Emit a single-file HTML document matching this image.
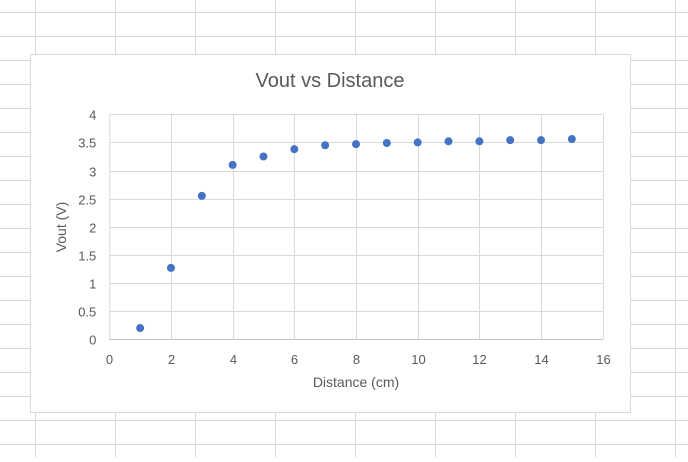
<!DOCTYPE html>
<html><head><meta charset="utf-8"><style>
body{margin:0;width:688px;height:457px;overflow:hidden;background:#fff;font-family:"Liberation Sans",sans-serif}
</style></head><body>
<svg id="s" width="688" height="457" xmlns="http://www.w3.org/2000/svg">
<g id="grid"></g>
<rect x="30.5" y="54.5" width="600" height="358" fill="#fff" stroke="#d9d9d9"/>
<text x="330" y="87" text-anchor="middle" font-size="20" fill="#595959">Vout vs Distance</text>
<g id="plot"></g>
<text x="356" y="387" text-anchor="middle" font-size="14" fill="#595959">Distance (cm)</text>
<text transform="translate(66,227) rotate(-90)" text-anchor="middle" font-size="14" fill="#595959">Vout (V)</text>
</svg>
<script>
const xValues=[1,2,3,4,5,6,7,8,9,10,11,12,13,14,15];
const yValues=[0.2,1.27,2.55,3.1,3.25,3.38,3.45,3.47,3.49,3.5,3.52,3.52,3.54,3.54,3.56];
const xTicks=[0,2,4,6,8,10,12,14,16];
const yTicks=[0,0.5,1,1.5,2,2.5,3,3.5,4];
const NS="http://www.w3.org/2000/svg";
const X0=109.3,X1=602.7,Y0=339.3,Y1=114.3;
function sx(v){return X0+(v-0)/(16-0)*(X1-X0);}
function sy(v){return Y0-(v-0)/(4-0)*(Y0-Y1);}
function mk(t,a,p){const e=document.createElementNS(NS,t);for(const k in a)e.setAttribute(k,a[k]);p.appendChild(e);return e;}
const grid=document.getElementById('grid');
for(let x=35.5;x<688;x+=80){const l=mk('line',{x1:x,x2:x,y1:0,y2:457,stroke:'#d9d9d9'},grid);

}
for(let y=12.5;y<457;y+=24){const l=mk('line',{x1:0,x2:688,y1:y,y2:y,stroke:'#d9d9d9'},grid);

}
const plot=document.getElementById('plot');
yTicks.forEach(v=>{const y=Math.round(sy(v))+0.5;
const l=mk('line',{x1:X0,x2:X1,y1:y,y2:y,stroke:v===0?'#bfbfbf':'#d9d9d9'},plot);


const t=mk('text',{x:X0-13,y:y+5,'text-anchor':'end','font-size':13,fill:'#595959'},plot);t.textContent=v;

});
xTicks.forEach(v=>{const x=Math.round(sx(v))+0.5;
if(v>0){const l=mk('line',{x1:x,x2:x,y1:Y1,y2:Y0,stroke:'#d9d9d9'},plot);

}
const t=mk('text',{x:x,y:364,'text-anchor':'middle','font-size':13,fill:'#595959'},plot);t.textContent=v;

});
mk('line',{x1:X0+0.5,x2:X0+0.5,y1:Y1,y2:Y0,stroke:'#d9d9d9'},plot);
xValues.forEach((xv,i)=>{const c=mk('circle',{cx:sx(xv),cy:sy(yValues[i]),r:4,fill:'#4472c4'},plot);

});
</script>
</body></html>
